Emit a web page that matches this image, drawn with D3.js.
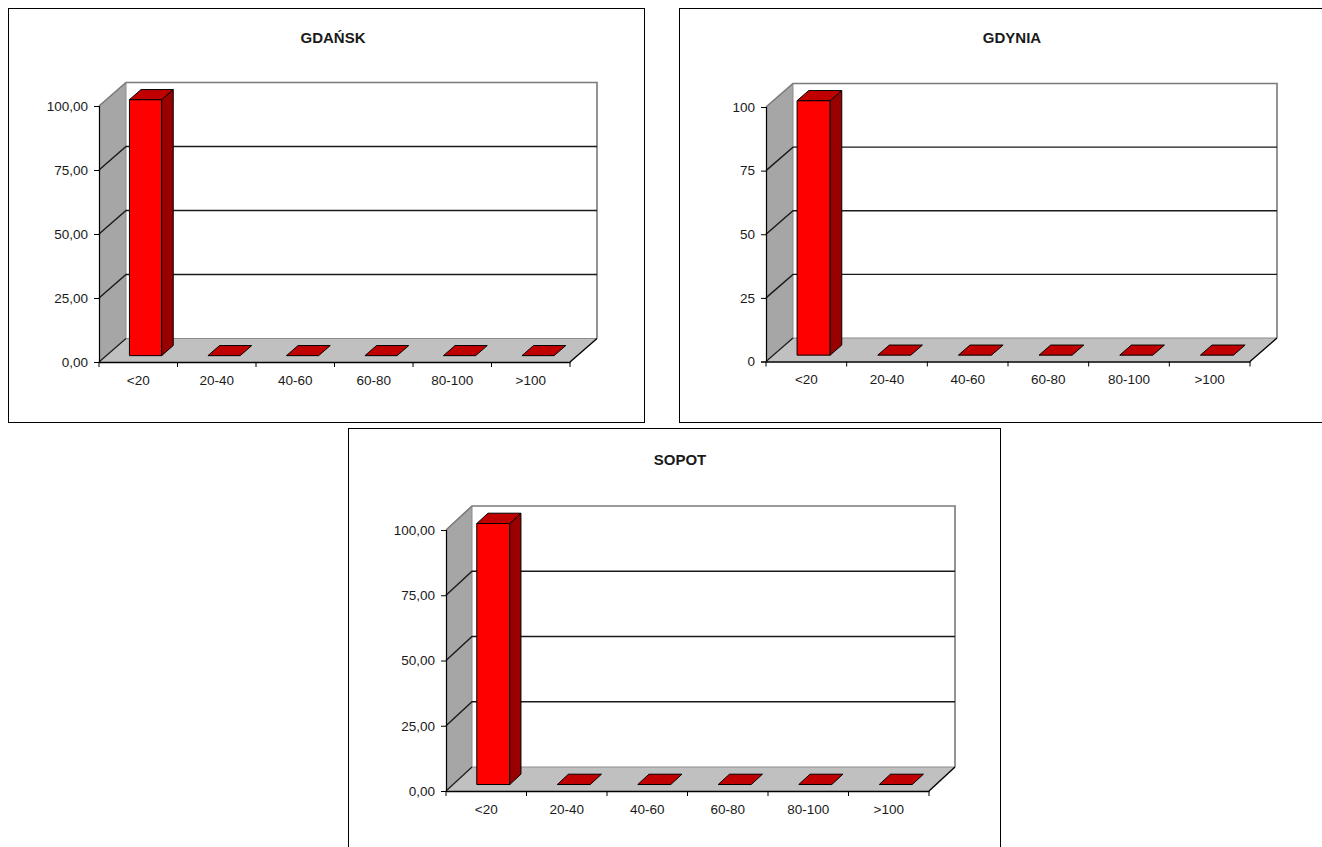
<!DOCTYPE html>
<html>
<head>
<meta charset="utf-8">
<script src="https://cdn.jsdelivr.net/npm/d3@7"></script>
<style>
  html, body { margin: 0; padding: 0; background: #fff; }
  svg { display: block; }
  text { font-family: Arial, "Liberation Sans", sans-serif; fill: #1a1a1a; }
</style>
</head>
<body>
<svg id="chart" width="1322" height="847"></svg>
<script>
// Share of area by size class, per city (percent)
const categories = ["<20", "20-40", "40-60", "60-80", "80-100", ">100"];
const gdanskValues = [100, 0, 0, 0, 0, 0];
const gdyniaValues = [100, 0, 0, 0, 0, 0];
const sopotValues  = [100, 0, 0, 0, 0, 0];
const yTicks = [0, 25, 50, 75, 100];
const cityNames = ["GDAŃSK", "GDYNIA", "SOPOT"];

const plLocale = d3.formatLocale({ decimal: ",", thousands: " ", grouping: [3], currency: ["", " zł"] });
const fmtDecimal = plLocale.format(".2f");
const fmtInteger = plLocale.format("d");

// Layout of the three framed panels (pixels)
const panels = [
  { title: cityNames[0], values: gdanskValues, fmt: fmtDecimal,
    frame: [8.5, 8.5, 636, 414], titleX: 333, titleY: 43,
    x0: 99, x1: 570, y0: 362, y100: 106, dx: 27, dy: -23.5 },
  { title: cityNames[1], values: gdyniaValues, fmt: fmtInteger,
    frame: [679.5, 8.5, 660, 414], titleX: 1012, titleY: 43,
    x0: 766, x1: 1250, y0: 361.5, y100: 107, dx: 27, dy: -23.5 },
  { title: cityNames[2], values: sopotValues, fmt: fmtDecimal,
    frame: [348.5, 428.5, 652, 440], titleX: 680, titleY: 465,
    x0: 446, x1: 929, y0: 791, y100: 530, dx: 26, dy: -24 }
];

const svg = d3.select("#chart");

function drawPanel(p) {
  const g = svg.append("g");

  g.append("rect")
    .attr("x", p.frame[0]).attr("y", p.frame[1])
    .attr("width", p.frame[2]).attr("height", p.frame[3])
    .attr("fill", "#fff").attr("stroke", "#000").attr("stroke-width", 1);

  g.append("text")
    .attr("x", p.titleX).attr("y", p.titleY)
    .attr("text-anchor", "middle")
    .style("font-weight", "bold").style("font-size", "15px")
    .text(p.title);

  const x = d3.scaleBand().domain(categories).range([p.x0, p.x1]).padding(0);
  const y = d3.scaleLinear().domain([0, 100]).range([p.y0, p.y100]);
  const dx = p.dx, dy = p.dy;
  const line = d3.line();

  // back wall
  g.append("path")
    .attr("d", line([[p.x0 + dx, y(100) + dy], [p.x1 + dx, y(100) + dy], [p.x1 + dx, y(0) + dy], [p.x0 + dx, y(0) + dy]]) + "Z")
    .attr("fill", "#fff").attr("stroke", "none");

  // left side wall
  g.append("path")
    .attr("d", line([[p.x0, y(100)], [p.x0 + dx, y(100) + dy], [p.x0 + dx, y(0) + dy], [p.x0, y(0)]]) + "Z")
    .attr("fill", "#a6a6a6").attr("stroke", "none");

  // floor
  g.append("path")
    .attr("d", line([[p.x0, y(0)], [p.x1, y(0)], [p.x1 + dx, y(0) + dy], [p.x0 + dx, y(0) + dy]]) + "Z")
    .attr("fill", "#c0c0c0").attr("stroke", "none");

  // wall outlines
  g.append("path")
    .attr("d", line([[p.x0 + dx, y(0) + dy], [p.x0 + dx, y(100) + dy]]))
    .attr("fill", "none").attr("stroke", "#8c8c8c").attr("stroke-width", 1);
  g.append("path")
    .attr("d", line([[p.x0 + dx, y(0) + dy], [p.x1 + dx, y(0) + dy]]))
    .attr("fill", "none").attr("stroke", "#8c8c8c").attr("stroke-width", 1);
  g.append("path")
    .attr("d", line([[p.x0, y(100)], [p.x0 + dx, y(100) + dy], [p.x1 + dx, y(100) + dy], [p.x1 + dx, y(0) + dy]]))
    .attr("fill", "none").attr("stroke", "#7a7a7a").attr("stroke-width", 1.6);

  // gridlines across side wall and back wall
  g.selectAll(".grid").data(yTicks.filter(t => t > 0 && t < 100)).join("path")
    .attr("d", t => line([[p.x0, y(t)], [p.x0 + dx, y(t) + dy], [p.x1 + dx, y(t) + dy]]))
    .attr("fill", "none").attr("stroke", "#1a1a1a").attr("stroke-width", 1.4);

  // floor front-left and front-right edges
  g.append("path")
    .attr("d", line([[p.x0, y(0)], [p.x0 + dx, y(0) + dy]]))
    .attr("fill", "none").attr("stroke", "#1a1a1a").attr("stroke-width", 1.2);
  g.append("path")
    .attr("d", line([[p.x1, y(0)], [p.x1 + dx, y(0) + dy]]))
    .attr("fill", "none").attr("stroke", "#000").attr("stroke-width", 1.4);

  // bars
  const bw = x.bandwidth();
  const barW = bw * 0.41;
  const f1 = 0.27, f2 = 0.70;
  const o1 = [dx * f1, dy * f1], o2 = [dx * f2, dy * f2];
  const bars = g.selectAll(".bar").data(p.values.map((v, i) => ({ v, c: categories[i] }))).join("g");

  bars.each(function(d) {
    const b = d3.select(this);
    const L = x(d.c) + (bw - barW) / 2, R = L + barW;
    const yt = y(d.v), yb = y(0);
    if (d.v > 0) {
      b.append("path")
        .attr("d", line([[L + o1[0], yt + o1[1]], [R + o1[0], yt + o1[1]], [R + o1[0], yb + o1[1]], [L + o1[0], yb + o1[1]]]) + "Z")
        .attr("fill", "#ff0000").attr("stroke", "#000").attr("stroke-width", 1).attr("stroke-linejoin", "round");
      b.append("path")
        .attr("d", line([[R + o1[0], yt + o1[1]], [R + o2[0], yt + o2[1]], [R + o2[0], yb + o2[1]], [R + o1[0], yb + o1[1]]]) + "Z")
        .attr("fill", "#990000").attr("stroke", "#000").attr("stroke-width", 1).attr("stroke-linejoin", "round");
    }
    b.append("path")
      .attr("d", line([[L + o1[0], yt + o1[1]], [R + o1[0], yt + o1[1]], [R + o2[0], yt + o2[1]], [L + o2[0], yt + o2[1]]]) + "Z")
      .attr("fill", "#c00000").attr("stroke", "#000").attr("stroke-width", 1).attr("stroke-linejoin", "round");
  });

  // value axis (front-left edge)
  const yAxis = g.append("g")
    .attr("transform", `translate(${p.x0},0)`)
    .call(d3.axisLeft(y).tickValues(yTicks).tickSize(5).tickPadding(6).tickFormat(p.fmt));
  yAxis.select(".domain").attr("stroke", "#000").attr("stroke-width", 1.2);
  yAxis.selectAll(".tick line").attr("stroke", "#000");
  yAxis.selectAll("text").style("font-size", "13.5px").style("font-family", "Arial, 'Liberation Sans', sans-serif").attr("fill", "#1a1a1a");

  // category axis (front floor edge)
  const xAxis = g.append("g")
    .attr("transform", `translate(0,${p.y0})`)
    .call(d3.axisBottom(x).tickSize(0).tickPadding(13));
  xAxis.select(".domain").attr("stroke", "#000").attr("stroke-width", 1.4);
  xAxis.selectAll("text").style("font-size", "13.5px").style("font-family", "Arial, 'Liberation Sans', sans-serif").attr("fill", "#1a1a1a");

  // tick marks on category boundaries
  const bounds = categories.map(c => x(c)).concat([p.x1]);
  g.selectAll(".xb").data(bounds).join("line")
    .attr("x1", d => d).attr("x2", d => d)
    .attr("y1", p.y0).attr("y2", p.y0 + 5)
    .attr("stroke", "#000").attr("stroke-width", 1);
}

panels.forEach(drawPanel);
</script>
</body>
</html>
